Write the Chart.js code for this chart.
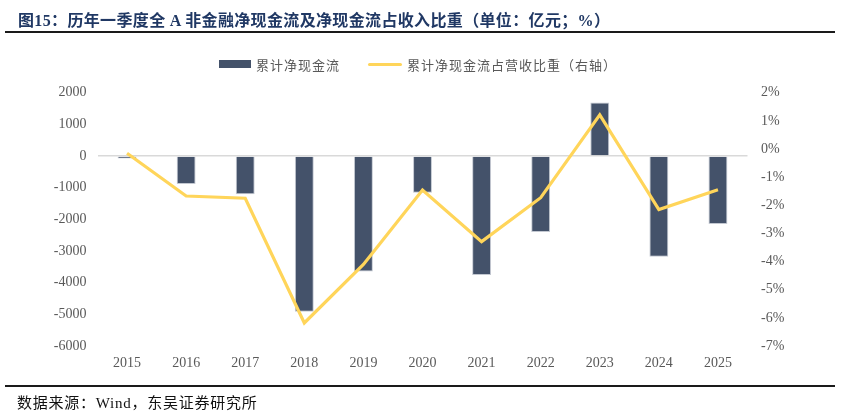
<!DOCTYPE html>
<html>
<head>
<meta charset="utf-8">
<script src="https://cdn.jsdelivr.net/npm/chart.js@4/dist/chart.umd.min.js"></script>
<style>
  body { margin: 0; background: #fff; }
  #wrap { position: relative; width: 843px; height: 420px; overflow: hidden; }
  #chart { position: absolute; left: 0; top: 0; }
  .title { position: absolute; left: 18px; top: 7px; font: bold 16px "Liberation Serif", "Noto Sans CJK SC", serif; color: #203864; white-space: nowrap; letter-spacing: 0.35px; }
  .rule-top { position: absolute; left: 5px; width: 830px; top: 31px; height: 2px; background: #1a1a1a; }
  .rule-bottom { position: absolute; left: 5px; width: 830px; top: 385px; height: 1.5px; background: #1a1a1a; }
  .source { position: absolute; left: 17px; top: 391px; font: 15px "Liberation Serif", "Noto Sans CJK SC", serif; color: #111; white-space: nowrap; letter-spacing: 0.75px; }
  .legend { position: absolute; top: 53px; left: 219px; font: 13px "Noto Sans CJK SC", sans-serif; color: #595959; letter-spacing: 1px; white-space: nowrap; }
  .legend span { display: inline-block; vertical-align: middle; }
  .swatch-bar { width: 32px; height: 8px; background: #44526A; margin-right: 5px; }
  .swatch-line { width: 34px; height: 3px; background: #FFD55A; margin-left: 28px; margin-right: 5px; border-radius: 2px; }
</style>
</head>
<body>
<div id="wrap">
  <canvas id="chart" width="843" height="420"></canvas>
  <div class="title">图15：历年一季度全 A 非金融净现金流及净现金流占收入比重（单位：亿元；%）</div>
  <div class="rule-top"></div>
  <div class="legend"><span class="swatch-bar"></span><span>累计净现金流</span><span class="swatch-line"></span><span>累计净现金流占营收比重（右轴）</span></div>
  <div class="rule-bottom"></div>
  <div class="source">数据来源：Wind，东吴证券研究所</div>
</div>
<script>
const years = ["2015", "2016", "2017", "2018", "2019", "2020", "2021", "2022", "2023", "2024", "2025"];
const netCashFlow = [-80, -880, -1210, -4920, -3650, -1160, -3760, -2400, 1690, -3180, -2150];
const cashFlowRatio = [-0.15, -1.67, -1.75, -6.18, -4.10, -1.46, -3.29, -1.73, 1.21, -2.15, -1.45];
const leftTicks = [2000, 1000, 0, -1000, -2000, -3000, -4000, -5000, -6000];
const rightTicks = [2, 1, 0, -1, -2, -3, -4, -5, -6, -7];

const tickFont = { family: "Liberation Serif", size: 14 };
const tickColor = "#595959";

const ctx = document.getElementById("chart").getContext("2d");
new Chart(ctx, {
  data: {
    labels: years,
    datasets: [
      {
        type: "line",
        label: "累计净现金流占营收比重（右轴）",
        data: cashFlowRatio,
        yAxisID: "yRight",
        borderColor: "#FFD55A",
        borderWidth: 3.2,
        pointRadius: 0,
        tension: 0,
        order: 0,
      },
      {
        type: "bar",
        label: "累计净现金流",
        data: netCashFlow,
        yAxisID: "yLeft",
        backgroundColor: "#44526A",
        borderColor: "#C3C8D1",
        borderWidth: 1,
        barPercentage: 0.32,
        categoryPercentage: 1,
        order: 1,
      },
    ],
  },
  options: {
    responsive: false,
    animation: false,
    layout: { padding: { top: 92.7, left: 0, right: 0, bottom: 0 } },
    plugins: { legend: { display: false }, tooltip: { enabled: false } },
    scales: {
      x: {
        grid: { display: false, drawTicks: false },
        border: { display: false },
        ticks: { font: tickFont, color: tickColor, padding: 9, maxRotation: 0 },
        afterFit: (s) => { s.height = 74; },
      },
      yLeft: {
        position: "left",
        min: -6000,
        max: 2000,
        afterBuildTicks: (s) => { s.ticks = leftTicks.map((v) => ({ value: v })); },
        grid: {
          drawTicks: false,
          lineWidth: 1.5,
          color: (c) => (c.tick && c.tick.value === 0 ? "#D9D9D9" : "rgba(0,0,0,0)"),
        },
        border: { display: false },
        ticks: { font: tickFont, color: tickColor, padding: 11, callback: (v) => String(v) },
        afterFit: (s) => { s.width = 97.5; },
      },
      yRight: {
        position: "right",
        min: -7,
        max: 2,
        afterBuildTicks: (s) => { s.ticks = rightTicks.map((v) => ({ value: v })); },
        grid: { display: false, drawTicks: false },
        border: { display: false },
        ticks: { font: tickFont, color: tickColor, padding: 13.5, callback: (v) => v + "%" },
        afterFit: (s) => { s.width = 95.5; },
      },
    },
  },
});
</script>
</body>
</html>
